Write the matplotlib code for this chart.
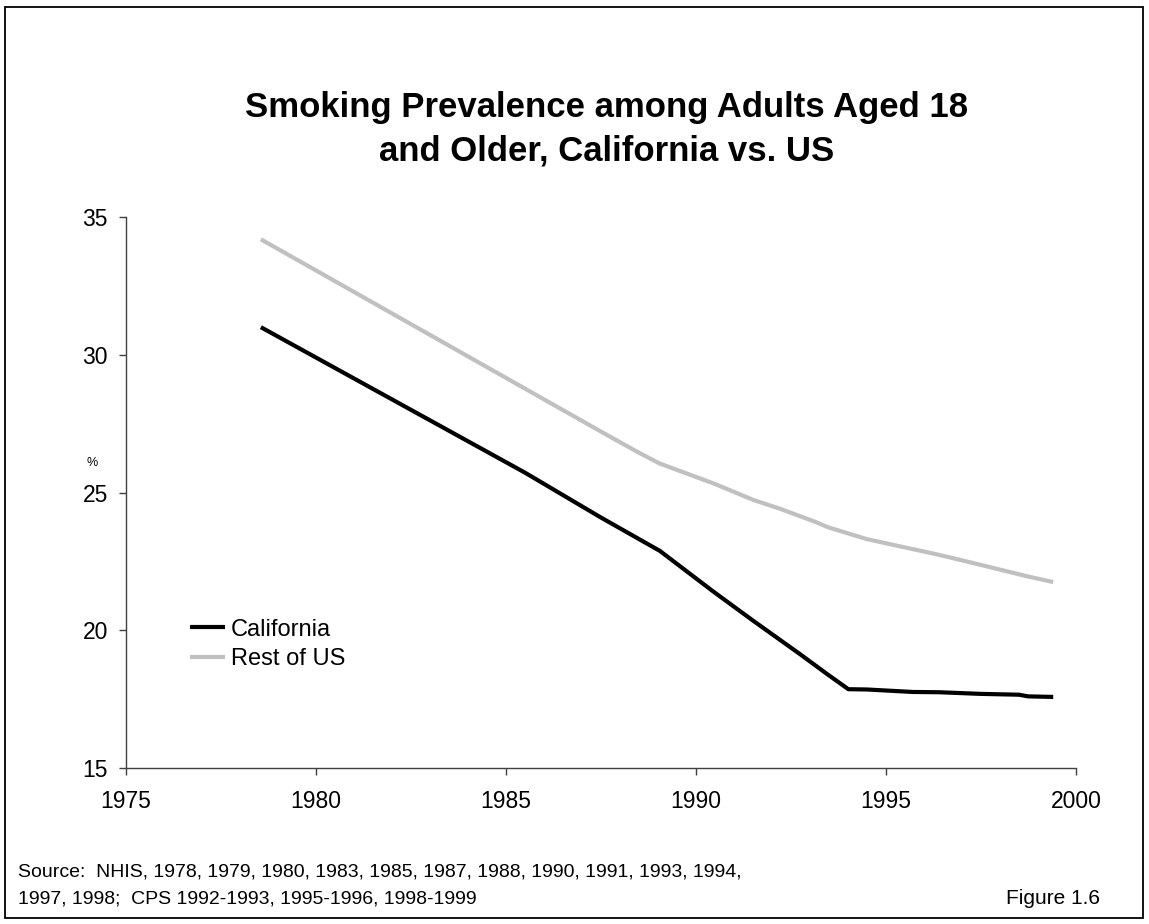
#!/usr/bin/env python3
"""Adult smoking prevalence, California against the rest of the US."""

import matplotlib

matplotlib.use("Agg")

import matplotlib.pyplot as plt
from matplotlib.patches import Rectangle

plt.rcParams["font.family"] = ["Liberation Sans", "DejaVu Sans"]

# survey points (year, percent smoking)
CA_YEARS = [1978.55, 1983.5, 1985.5, 1987.5, 1989.05, 1990.46, 1991.51, 1992.74,
            1993.48, 1994.01, 1994.5, 1995.7, 1996.4, 1997.5, 1998.5, 1998.74, 1999.4]
CA_VALUES = [31.0, 27.24, 25.72, 24.09, 22.88, 21.40, 20.34, 19.13,
             18.38, 17.86, 17.85, 17.76, 17.75, 17.69, 17.66, 17.60, 17.58]

US_YEARS = [1978.55, 1983.5, 1985.5, 1987.5, 1988.45, 1989.03, 1990.46, 1991.51,
            1992.21, 1993.13, 1993.47, 1994.49, 1995.72, 1996.42, 1997.56, 1998.74, 1999.4]
US_VALUES = [34.19, 30.33, 28.77, 27.21, 26.48, 26.06, 25.33, 24.73,
             24.41, 23.94, 23.74, 23.31, 22.94, 22.73, 22.35, 21.95, 21.75]

X_TICKS = [1975, 1980, 1985, 1990, 1995, 2000]
Y_TICKS = [15, 20, 25, 30, 35]

W, H = 1149, 924

fig = plt.figure(figsize=(W / 100, H / 100), dpi=100)
fig.patch.set_facecolor("white")

# outer frame around the whole figure
fig.add_artist(Rectangle((5 / W, 1 - 918 / H), 1138 / W, 911 / H,
                         transform=fig.transFigure, fill=False,
                         edgecolor="black", lw=1.3))

ax = fig.add_axes([126 / W, 1 - 768 / H, 950 / W, 551 / H])
ax.plot(US_YEARS, US_VALUES, color="#c0c0c0", lw=3.0,
        solid_capstyle="butt", label="Rest of US")
ax.plot(CA_YEARS, CA_VALUES, color="black", lw=3.0,
        solid_capstyle="butt", label="California")

ax.set_xlim(1975, 2000)
ax.set_ylim(15, 35)
ax.set_xticks(X_TICKS)
ax.set_yticks(Y_TICKS)
for side in ("top", "right"):
    ax.spines[side].set_visible(False)
for side in ("left", "bottom"):
    ax.spines[side].set_color("#404040")
    ax.spines[side].set_linewidth(1.0)
ax.tick_params(axis="both", direction="out", length=5, width=1.0,
               color="#404040", labelsize=16.5)
ax.tick_params(axis="x", pad=11)
ax.tick_params(axis="y", pad=8)

ax.text(-0.036, 0.5535, "%", transform=ax.transAxes, fontsize=9,
        ha="center", va="center")

handles, labels = ax.get_legend_handles_labels()
ax.legend(handles[::-1], labels[::-1], loc="upper left",
          bbox_to_anchor=(0.057, 0.288), frameon=False, fontsize=17,
          handlelength=1.5, handletextpad=0.25, labelspacing=0.32,
          borderaxespad=0.0)

fig.text(0.528, 1 - 108 / H, "Smoking Prevalence among Adults Aged 18",
         ha="center", va="center", fontsize=25, fontweight="bold")
fig.text(0.528, 1 - 151 / H, "and Older, California vs. US",
         ha="center", va="center", fontsize=25, fontweight="bold")

fig.text(18 / W, 1 - 872 / H,
         "Source:  NHIS, 1978, 1979, 1980, 1983, 1985, 1987, 1988, 1990, 1991, 1993, 1994,",
         ha="left", va="center", fontsize=14)
fig.text(18 / W, 1 - 899 / H,
         "1997, 1998;  CPS 1992-1993, 1995-1996, 1998-1999",
         ha="left", va="center", fontsize=14)
fig.text(1100 / W, 1 - 899 / H, "Figure 1.6",
         ha="right", va="center", fontsize=15)

fig.savefig("out.png", dpi=100)
